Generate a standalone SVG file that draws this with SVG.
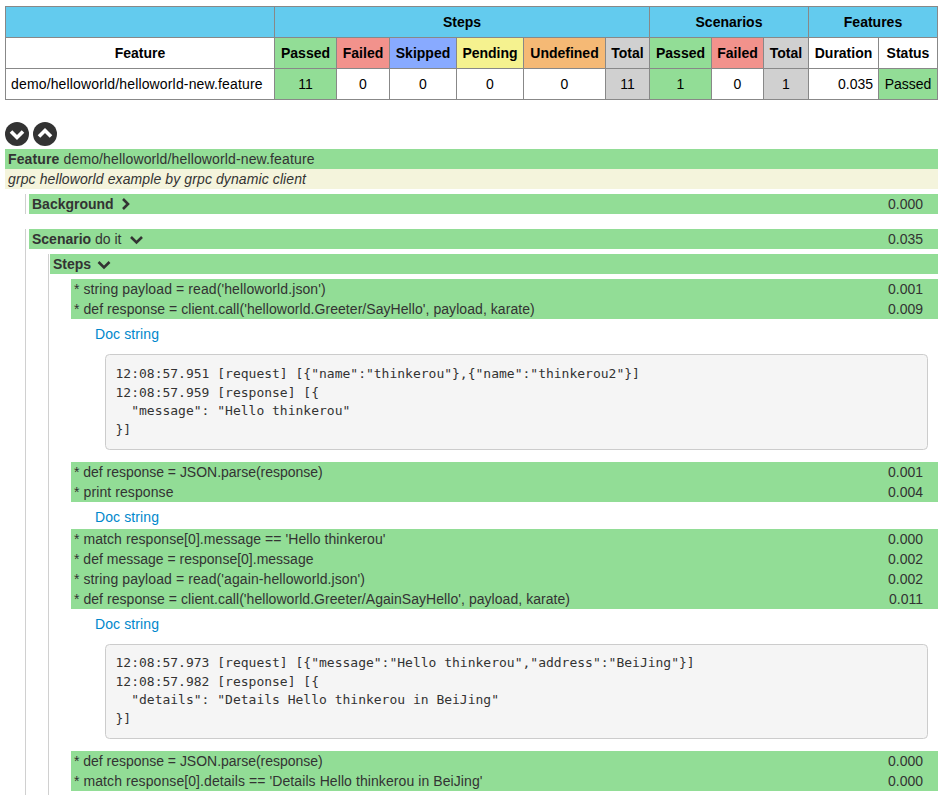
<svg xmlns="http://www.w3.org/2000/svg" width="943" height="801" viewBox="0 0 943 801">
<style>
text{font-family:"Liberation Sans",Arial,sans-serif;font-size:14px;fill:#333}
.th{font-weight:bold;fill:#000;text-anchor:middle}
.td{fill:#000;text-anchor:middle}
.cell{stroke:#888;stroke-width:1}
.blue{fill:#63cbee}.white{fill:#fff}.pass{fill:#92dd96}.fail{fill:#f2928c}.skip{fill:#8af}.pend{fill:#f5f28f}.undf{fill:#f5b975}.tot{fill:#d0d0d0}
.g{fill:#92dd96}
.b{font-weight:bold}
.dur{text-anchor:end}
.link{fill:#0088cc}
.rule{stroke:#d0d0d0;stroke-width:1;fill:none}
.pre{fill:#f5f5f5;stroke:#ccc;stroke-width:1}
.mono{font-family:"DejaVu Sans Mono","Liberation Mono",monospace;font-size:13px;fill:#333;white-space:pre}
.chev{fill:none;stroke:#333;stroke-width:2.6}
.ichev{fill:none;stroke:#fff;stroke-width:3.6}
</style>
<g id="summary-table">
<rect class="cell blue" x="5.5" y="6.5" width="269" height="31"/>
<rect class="cell blue" x="274.5" y="6.5" width="375" height="31"/>
<rect class="cell blue" x="649.5" y="6.5" width="159" height="31"/>
<rect class="cell blue" x="808.5" y="6.5" width="129" height="31"/>
<text class="th" x="462" y="27">Steps</text>
<text class="th" x="729" y="27">Scenarios</text>
<text class="th" x="873" y="27">Features</text>
<rect class="cell white" x="5.5" y="37.5" width="269" height="31"/>
<rect class="cell pass" x="274.5" y="37.5" width="62" height="31"/>
<rect class="cell fail" x="336.5" y="37.5" width="53" height="31"/>
<rect class="cell skip" x="389.5" y="37.5" width="67" height="31"/>
<rect class="cell pend" x="456.5" y="37.5" width="67" height="31"/>
<rect class="cell undf" x="523.5" y="37.5" width="82" height="31"/>
<rect class="cell tot" x="605.5" y="37.5" width="44" height="31"/>
<rect class="cell pass" x="649.5" y="37.5" width="62" height="31"/>
<rect class="cell fail" x="711.5" y="37.5" width="52" height="31"/>
<rect class="cell tot" x="763.5" y="37.5" width="45" height="31"/>
<rect class="cell white" x="808.5" y="37.5" width="70" height="31"/>
<rect class="cell white" x="878.5" y="37.5" width="59" height="31"/>
<text class="th" x="140" y="58">Feature</text>
<text class="th" x="305.5" y="58">Passed</text>
<text class="th" x="363" y="58">Failed</text>
<text class="th" x="423" y="58">Skipped</text>
<text class="th" x="490" y="58">Pending</text>
<text class="th" x="564.5" y="58">Undefined</text>
<text class="th" x="627.5" y="58">Total</text>
<text class="th" x="680.5" y="58">Passed</text>
<text class="th" x="737.5" y="58">Failed</text>
<text class="th" x="786" y="58">Total</text>
<text class="th" x="843.5" y="58">Duration</text>
<text class="th" x="908" y="58">Status</text>
<rect class="cell white" x="5.5" y="68.5" width="269" height="31"/>
<rect class="cell pass" x="274.5" y="68.5" width="62" height="31"/>
<rect class="cell white" x="336.5" y="68.5" width="53" height="31"/>
<rect class="cell white" x="389.5" y="68.5" width="67" height="31"/>
<rect class="cell white" x="456.5" y="68.5" width="67" height="31"/>
<rect class="cell white" x="523.5" y="68.5" width="82" height="31"/>
<rect class="cell tot" x="605.5" y="68.5" width="44" height="31"/>
<rect class="cell pass" x="649.5" y="68.5" width="62" height="31"/>
<rect class="cell white" x="711.5" y="68.5" width="52" height="31"/>
<rect class="cell tot" x="763.5" y="68.5" width="45" height="31"/>
<rect class="cell white" x="808.5" y="68.5" width="70" height="31"/>
<rect class="cell pass" x="878.5" y="68.5" width="59" height="31"/>
<text x="11" y="89" style="fill:#000" textLength="251.5">demo/helloworld/helloworld-new.feature</text>
<text class="td" x="305.5" y="89">11</text>
<text class="td" x="363" y="89">0</text>
<text class="td" x="423" y="89">0</text>
<text class="td" x="490" y="89">0</text>
<text class="td" x="564.5" y="89">0</text>
<text class="td" x="627.5" y="89">11</text>
<text class="td" x="680.5" y="89">1</text>
<text class="td" x="737.5" y="89">0</text>
<text class="td" x="786" y="89">1</text>
<text x="873" y="89" style="text-anchor:end;fill:#000">0.035</text>
<text class="td" x="908" y="89">Passed</text>
</g>
<g id="expand-all">
<circle cx="17" cy="134" r="12" fill="#333"/>
<path class="ichev" d="M11 131.500L17 137.500L23 131.500"/>
</g>
<g id="collapse-all">
<circle cx="45" cy="134" r="12" fill="#333"/>
<path class="ichev" d="M39 136.500L45 130.500L51 136.500"/>
</g>
<g id="rules">
<path class="rule" d="M25.500 194V214M25.500 229V795M48.500 254V795"/>
</g>
<g id="feature">
<rect class="g" x="5" y="149" width="933" height="20"/>
<text x="8" y="164" textLength="306.500"><tspan class="b">Feature</tspan> demo/helloworld/helloworld-new.feature</text>
<rect x="5" y="169" width="933" height="20" fill="#f4f4dc"/>
<text x="8" y="184" font-style="italic" textLength="298">grpc helloworld example by grpc dynamic client</text>
</g>
<g id="background">
<rect class="g" x="29" y="194" width="909" height="20"/>
<text x="32" y="209" class="b">Background</text>
<path class="chev" d="M123 199L128 204L123 209"/>
<text class="dur" x="923" y="209">0.000</text>
</g>
<g id="scenario">
<rect class="g" x="29" y="229" width="909" height="20"/>
<text x="32" y="244"><tspan class="b">Scenario</tspan> do it</text>
<path class="chev" d="M131 237L136.500 242.500L142 237"/>
<text class="dur" x="923" y="244">0.035</text>
</g>
<g id="steps">
<rect class="g" x="50" y="254" width="888" height="20"/>
<text x="53" y="269" class="b">Steps</text>
<path class="chev" d="M98.500 262L104 267.500L109.500 262"/>
</g>
<g id="steps-block-1">
<rect class="g" x="71" y="279" width="867" height="40"/>
<text x="74" y="294" textLength="251.700">* string payload = read('helloworld.json')</text>
<text class="dur" x="923" y="294">0.001</text>
<text x="74" y="314" textLength="460.700">* def response = client.call('helloworld.Greeter/SayHello', payload, karate)</text>
<text class="dur" x="923" y="314">0.009</text>
</g>
<g id="doc-string-1">
<text class="link" x="95" y="339" textLength="64">Doc string</text>
<rect class="pre" x="105.500" y="354.500" width="822" height="95" rx="4"/>
<text class="mono" x="115.500" y="378">12:08:57.951 [request] [{"name":"thinkerou"},{"name":"thinkerou2"}]</text>
<text class="mono" x="115.500" y="396.500">12:08:57.959 [response] [{</text>
<text class="mono" x="115.500" y="415">  "message": "Hello thinkerou"</text>
<text class="mono" x="115.500" y="433.500">}]</text>
</g>
<g id="steps-block-2">
<rect class="g" x="71" y="462" width="867" height="40"/>
<text x="74" y="477" textLength="248.700">* def response = JSON.parse(response)</text>
<text class="dur" x="923" y="477">0.001</text>
<text x="74" y="497" textLength="99.500">* print response</text>
<text class="dur" x="923" y="497">0.004</text>
</g>
<g id="doc-string-2">
<text class="link" x="95" y="522" textLength="64">Doc string</text>
</g>
<g id="steps-block-3">
<rect class="g" x="71" y="529" width="867" height="80"/>
<text x="74" y="544" textLength="311.500">* match response[0].message == 'Hello thinkerou'</text>
<text class="dur" x="923" y="544">0.000</text>
<text x="74" y="564" textLength="239.500">* def message = response[0].message</text>
<text class="dur" x="923" y="564">0.002</text>
<text x="74" y="584" textLength="291">* string payload = read('again-helloworld.json')</text>
<text class="dur" x="923" y="584">0.002</text>
<text x="74" y="604" textLength="496">* def response = client.call('helloworld.Greeter/AgainSayHello', payload, karate)</text>
<text class="dur" x="923" y="604">0.011</text>
</g>
<g id="doc-string-3">
<text class="link" x="95" y="629" textLength="64">Doc string</text>
<rect class="pre" x="105.500" y="644.500" width="822" height="94" rx="4"/>
<text class="mono" x="115.500" y="667">12:08:57.973 [request] [{"message":"Hello thinkerou","address":"BeiJing"}]</text>
<text class="mono" x="115.500" y="686">12:08:57.982 [response] [{</text>
<text class="mono" x="115.500" y="704">  "details": "Details Hello thinkerou in BeiJing"</text>
<text class="mono" x="115.500" y="723">}]</text>
</g>
<g id="steps-block-4">
<rect class="g" x="71" y="751" width="867" height="40"/>
<text x="74" y="766" textLength="248.700">* def response = JSON.parse(response)</text>
<text class="dur" x="923" y="766">0.000</text>
<text x="74" y="786" textLength="408.500">* match response[0].details == 'Details Hello thinkerou in BeiJing'</text>
<text class="dur" x="923" y="786">0.000</text>
</g>
</svg>
